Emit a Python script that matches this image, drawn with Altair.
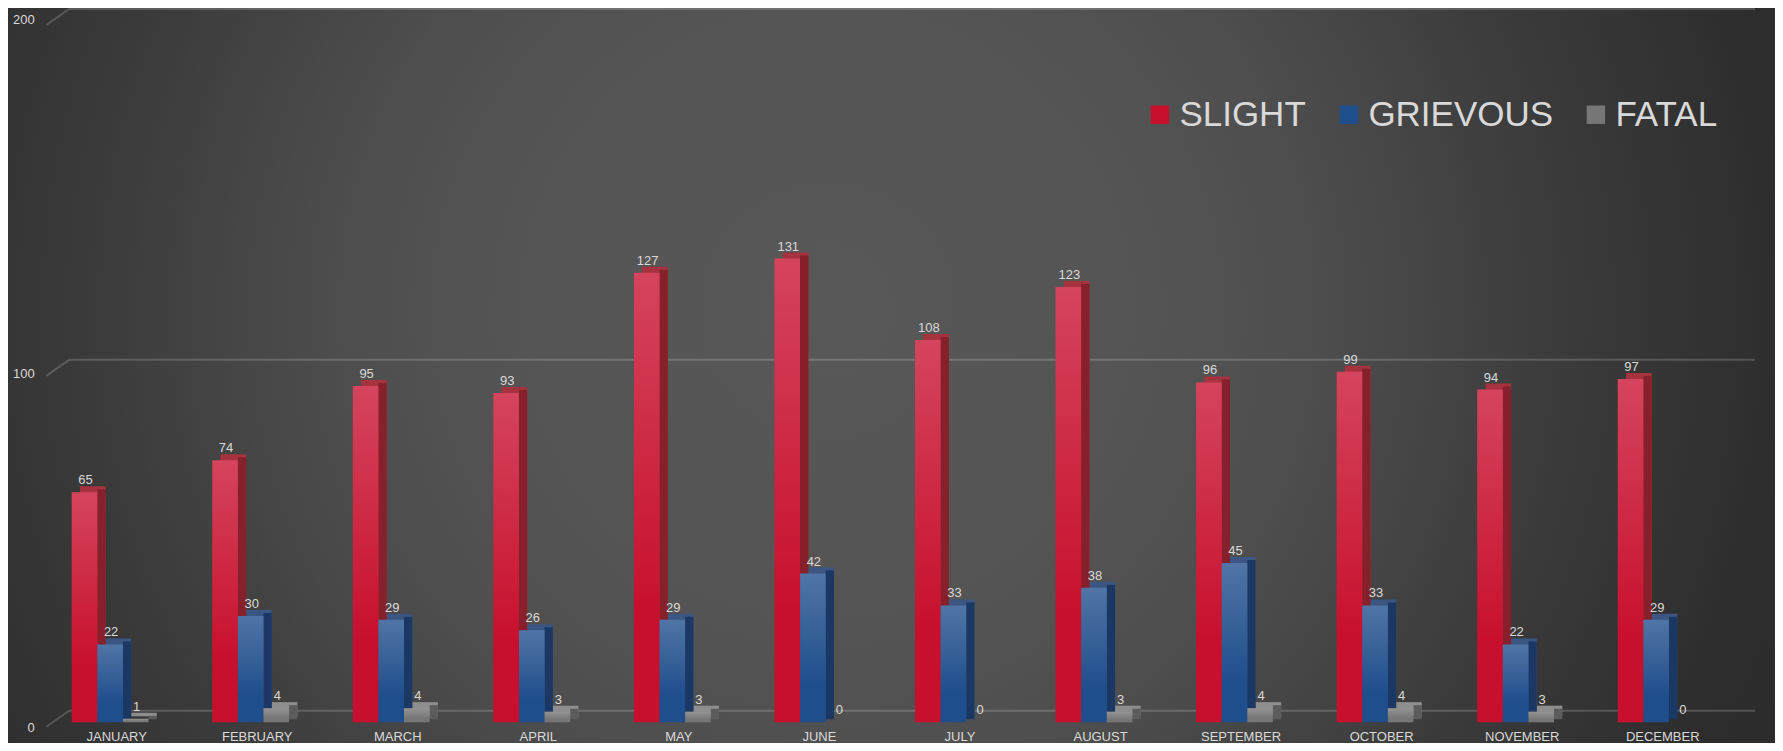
import altair as alt
import pandas as pd

months = ["JANUARY", "FEBRUARY", "MARCH", "APRIL", "MAY", "JUNE", "JULY",
          "AUGUST", "SEPTEMBER", "OCTOBER", "NOVEMBER", "DECEMBER"]
series = ["SLIGHT", "GRIEVOUS", "FATAL"]
slight = [65, 74, 95, 93, 127, 131, 108, 123, 96, 99, 94, 97]
grievous = [22, 30, 29, 26, 29, 42, 33, 38, 45, 33, 22, 29]
fatal = [1, 4, 4, 3, 3, 0, 0, 3, 4, 4, 3, 0]
y_ticks = [0, 100, 200]

front_colors = ["#c8102e", "#1f4e8c", "#767676"]
top_colors = ["#a5323c", "#3b5683", "#8e8e8e"]
side_colors = ["#86202a", "#1b3864", "#5c5c5c"]

rows = []
for i, m in enumerate(months):
    for s, vals in zip(series, [slight, grievous, fatal]):
        rows.append({"month": m, "series": s, "value": vals[i]})
df = pd.DataFrame(rows)
ticks_df = pd.DataFrame({"tick": y_ticks})

FONT = "Liberation Sans"
W = 1686.6
H = 715
SUB = 25.6
GROUP_START = 25.3
DX, DY = 8.3, 6.0

x_enc = alt.X("month:N", sort=months, title=None,
              scale=alt.Scale(paddingInner=0, paddingOuter=0),
              axis=alt.Axis(labelFontSize=13, labelColor="#d9d9d9", labelFont=FONT,
                            labelPadding=8, labelAngle=0, domain=False, ticks=False,
                            grid=False, zindex=5))


def xo(shift=0.0):
    return alt.XOffset("series:N", sort=series,
                       scale=alt.Scale(paddingInner=0, paddingOuter=0,
                                       range=[GROUP_START + shift,
                                              GROUP_START + shift + 3 * SUB]))


xo_text = alt.XOffset("series:N", sort=series,
                      scale=alt.Scale(type="point", padding=0,
                                      range=[GROUP_START + SUB / 2 + 1,
                                             GROUP_START + 2.5 * SUB + 1]))


def y_main(field="value:Q"):
    return alt.Y(field, scale=alt.Scale(domain=[0, 200], range=[714.3, 6.3]), axis=None)


wall_scale = alt.Scale(domain=[0, 200], range=[702.7, 1])

bg = alt.Chart(alt.Data(values=[{}])).mark_rect(
    fill=alt.RadialGradient(
        gradient="radial",
        stops=[alt.GradientStop(color="#585858", offset=0),
               alt.GradientStop(color="#545454", offset=0.3),
               alt.GradientStop(color="#4e4e4e", offset=0.45),
               alt.GradientStop(color="#3a3a3a", offset=0.7),
               alt.GradientStop(color="#2d2d2d", offset=0.9),
               alt.GradientStop(color="#2b2b2b", offset=1)],
        x1=0.47, y1=0.47, r1=0, x2=0.47, y2=0.47, r2=0.5)
).encode(x=alt.value(-38.4), x2=alt.value(W + 41.6), y=alt.value(-700), y2=alt.value(1435))

wall_h = alt.Chart(ticks_df).mark_rule(color="white", opacity=0.18, strokeWidth=2).encode(
    x=alt.value(22.6), x2=alt.value(1708.6),
    y=alt.Y("tick:Q", scale=wall_scale, axis=None))

wall_d = alt.Chart(ticks_df).mark_rule(color="white", opacity=0.18, strokeWidth=2, yOffset=16).encode(
    x=alt.value(0), x2=alt.value(22.6),
    y=alt.Y("tick:Q", scale=wall_scale, axis=None), y2=alt.Y2("tick"))

top = alt.Chart(df).mark_bar(yOffset=-DY, y2Offset=0).encode(
    x=x_enc, xOffset=xo(DX), y=y_main(),
    color=alt.Color("series:N", sort=series, legend=None,
                    scale=alt.Scale(domain=series, range=top_colors)))

side = alt.Chart(df).mark_bar(width=DX, yOffset=-DY / 2, y2Offset=0).encode(
    x=x_enc, xOffset=xo(SUB / 2 + DX / 2), y=y_main(),
    color=alt.Color("series:N", sort=series, legend=None,
                    scale=alt.Scale(domain=series, range=side_colors)))

front = alt.Chart(df).mark_bar().encode(
    x=x_enc, xOffset=xo(0), y=y_main(),
    color=alt.Color("series:N", sort=series,
                    scale=alt.Scale(domain=series, range=front_colors),
                    legend=alt.Legend(orient="none", legendX=1096, legendY=89,
                                      direction="horizontal", title=None,
                                      symbolType="square", symbolSize=340,
                                      symbolStrokeWidth=0, symbolOpacity=1,
                                      labelFontSize=35, labelColor="#d9d9d9",
                                      labelFont=FONT, labelOffset=2,
                                      columnPadding=25, labelLimit=400)))

overlay = alt.Chart(df).mark_bar(
    fill=alt.LinearGradient(
        gradient="linear",
        stops=[alt.GradientStop(color="rgba(255,255,255,0.22)", offset=0),
               alt.GradientStop(color="rgba(255,255,255,0)", offset=0.75)],
        x1=0, x2=0, y1=0, y2=1)
).encode(x=x_enc, xOffset=xo(0), y=y_main())

vlabels = alt.Chart(df).mark_text(
    dy=-8, baseline="alphabetic", align="center",
    fontSize=13, font=FONT, color="#d9d9d9"
).encode(x=x_enc, xOffset=xo_text, y=y_main(), text=alt.Text("value:Q", format="d"))

ylabels = alt.Chart(ticks_df).mark_text(
    align="right", baseline="middle", dy=5.5, fontSize=13, font=FONT, color="#d9d9d9"
).encode(x=alt.value(-11.7), y=y_main("tick:Q"), text=alt.Text("tick:Q", format="d"))

chart = alt.layer(bg, wall_h, wall_d, top, side, front, overlay, vlabels, ylabels).resolve_scale(
    y="independent", color="independent", xOffset="independent"
).properties(
    width=W, height=H,
    autosize=alt.AutoSizeParams(type="none"),
    padding={"left": 38.4, "top": 0, "right": 41.6, "bottom": 20},
).configure_view(stroke=None).configure(background="#2b2b2b")

chart.save("out.html", embed_options={"renderer": "svg", "actions": False})
